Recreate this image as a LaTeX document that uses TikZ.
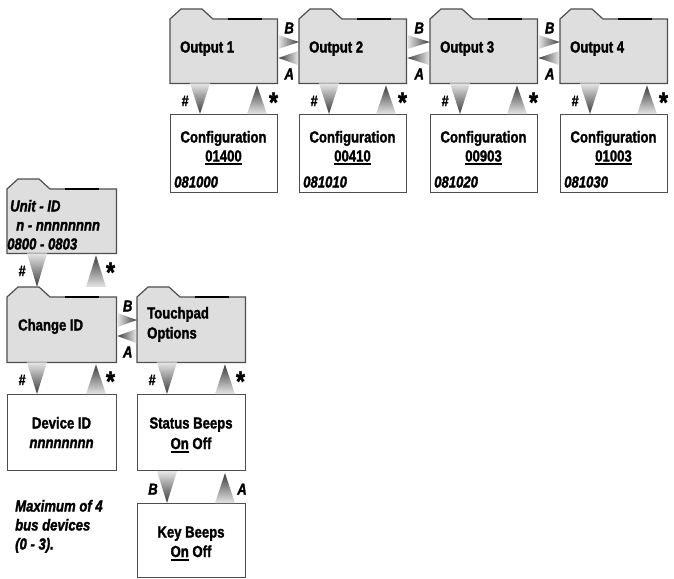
\documentclass[tikz,border=0pt]{standalone}
\usepackage{fontspec}
\setmainfont{Liberation Sans}[FakeStretch=0.82, BoldFeatures={FakeBold=1.6}, BoldItalicFeatures={FakeBold=1.6}]
\usetikzlibrary{calc}
\definecolor{foldfill}{HTML}{DEDEDE}
\definecolor{edge}{HTML}{4E4E4E}
\definecolor{arrlt}{HTML}{E6E6E6}
\definecolor{arrdk}{HTML}{3A3A3A}
\newcommand\ulx[1]{\setbox0\hbox{#1}\rlap{\rule[-3.6pt]{\wd0}{1.8pt}}\box0\relax}
\newcommand\folderpath[1]{%
  \filldraw[foldline] (#1.south west) -- ([yshift=-10pt]#1.north west) -- ([xshift=11pt]#1.north west)
    -- ([xshift=32pt]#1.north west) -- ([xshift=43pt,yshift=-10pt]#1.north west)
    -- ([yshift=-10pt]#1.north east) -- (#1.south east) -- cycle;
  \draw[line width=2.2pt, black] ([xshift=58pt,yshift=-10pt]#1.north west) -- ([xshift=92pt,yshift=-10pt]#1.north west);}
\newcommand\downarr[3]{%
  \shade[top color=arrlt, bottom color=arrdk] ($(#1.south west)+(#3-10,0)$) -- ($(#1.south west)+(#3+10,0)$)
    -- ($(#1.south west |- #2.north)+(#3,0)$) -- cycle;}
\newcommand\uparr[3]{%
  \shade[top color=arrdk, bottom color=arrlt] ($(#1.south west |- #2.north)+(#3-10,0)$) -- ($(#1.south west |- #2.north)+(#3+10,0)$)
    -- ($(#1.south west)+(#3,2)$) -- cycle;}
\newcommand\sidearr[2]{%
  \shade[left color=arrlt, right color=arrdk] ($(#1.north east)+(1,26)$) -- ($(#1.north east)+(1,40)$)
    -- ($(#2.north west)+(0,33)$) -- cycle;
  \shade[left color=arrdk, right color=arrlt] ($(#2.north west)+(-1,42)$) -- ($(#2.north west)+(-1,56)$)
    -- ($(#1.north east)+(1,49)$) -- cycle;
  \node[lbl] (#1B) at ($(#1.north east)!.5!(#2.north west)+(1,19)$) {B};
  \node[lbl] (#1A) at ($(#1.north east)!.5!(#2.north west)+(1,65)$) {A};}
\newcommand\hashstar[2]{%
  \node[hsh] (#1h) at ($(#1.south west)+(15,17.5)$) {\#};
  \node[str, anchor=north] (#1s) at ($(#1.south west)+(103.5,9)$) {*};}
\begin{document}
\begin{tikzpicture}[x=1pt,y=-1pt,
  foldline/.style={draw=edge, fill=foldfill, line width=1.2pt, line join=miter},
  folderbox/.style={inner sep=0, minimum width=#1, minimum height=74pt, anchor=north west},
  folderbox/.default=107pt,
  boxx/.style={draw=edge, line width=1.2pt, fill=white, inner sep=0, anchor=north west},
  txt/.style={inner sep=0, font=\fontsize{16}{19}\selectfont\bfseries},
  itx/.style={inner sep=0, font=\fontsize{16}{19}\selectfont\bfseries\itshape},
  lbl/.style={inner sep=0, font=\fontsize{16}{16}\selectfont\bfseries\itshape},
  hsh/.style={inner sep=0, font=\fontsize{15}{15}\selectfont\bfseries\itshape},
  str/.style={inner sep=0, font=\fontsize{28}{28}\selectfont\bfseries},
]
\useasboundingbox (0,0) rectangle (674,578);

% top row
\foreach \x/\n/\code/\num in {170/1/01400/081000, 299/2/00410/081010, 430/3/00903/081020, 560/4/01003/081030}{
  \node[folderbox] (o\n) at (\x,9) {};
  \folderpath{o\n}
  \node[txt, anchor=base west] (o\n t) at (\x+10,52.5) {Output \n};
  \node[boxx, minimum width=107pt, minimum height=78pt] (c\n) at (\x,114) {};
  \node[txt, anchor=base] (c\n a) at (\x+53.5,142.5) {Configuration};
  \node[txt, anchor=base] (c\n b) at (\x+53.5,161.5) {\ulx{\code}};
  \node[itx, anchor=base west] (c\n c) at (\x+4,187.5) {\num};
  \downarr{o\n}{c\n}{30}
  \uparr{o\n}{c\n}{87}
  \hashstar{o\n}{c\n}
}
\sidearr{o1}{o2}
\sidearr{o2}{o3}
\sidearr{o3}{o4}

% unit id
\node[folderbox=109pt] (uid) at (7,179) {};
\folderpath{uid}
\node[itx, anchor=base west] (uid1) at (10,211.5) {Unit - ID};
\node[itx, anchor=base west] (uid2) at (16,230.5) {n - nnnnnnnn};
\node[itx, anchor=base west] (uid3) at (7,249.5) {0800 - 0803};

% change id and touchpad
\node[folderbox=109pt, minimum height=75pt] (chg) at (7,287) {};
\folderpath{chg}
\node[txt, anchor=base west] (chgt) at (18,330.5) {Change ID};
\node[folderbox=108pt, minimum height=75pt] (tch) at (137,287) {};
\folderpath{tch}
\node[txt, anchor=base west] (tch1) at (147,318.5) {Touchpad};
\node[txt, anchor=base west] (tch2) at (147,338.5) {Options};

\downarr{uid}{chg}{30}
\uparr{uid}{chg}{89}
\hashstar{uid}{chg}
\sidearr{chg}{tch}

% boxes
\node[boxx, minimum width=109pt, minimum height=76pt] (dev) at (7,394) {};
\node[txt, anchor=base] (dev1) at (61.5,428.5) {Device ID};
\node[itx, anchor=base] (dev2) at (61.5,448) {nnnnnnnn};
\node[boxx, minimum width=108pt, minimum height=76pt] (sta) at (137,394) {};
\node[txt, anchor=base] (sta1) at (191,428.5) {Status Beeps};
\node[txt, anchor=base] (sta2) at (191,449) {\ulx{On} Off};
\node[boxx, minimum width=108pt, minimum height=74pt] (key) at (137,503) {};
\node[txt, anchor=base] (key1) at (191,537.5) {Key Beeps};
\node[txt, anchor=base] (key2) at (191,557) {\ulx{On} Off};

\downarr{chg}{dev}{30}
\uparr{chg}{dev}{89}
\hashstar{chg}{dev}
\downarr{tch}{sta}{30}
\uparr{tch}{sta}{88}
\hashstar{tch}{sta}
\downarr{sta}{key}{30}
\uparr{sta}{key}{88}
\node[lbl] (staB) at ($(sta.south west)+(16,18)$) {B};
\node[lbl] (staA) at ($(sta.south west)+(105,18)$) {A};

% note
\node[itx, anchor=base west] (note1) at (15,511.5) {Maximum of 4};
\node[itx, anchor=base west] (note2) at (15,530.5) {bus devices};
\node[itx, anchor=base west] (note3) at (15,549.5) {(0 - 3).};
\end{tikzpicture}
\end{document}
